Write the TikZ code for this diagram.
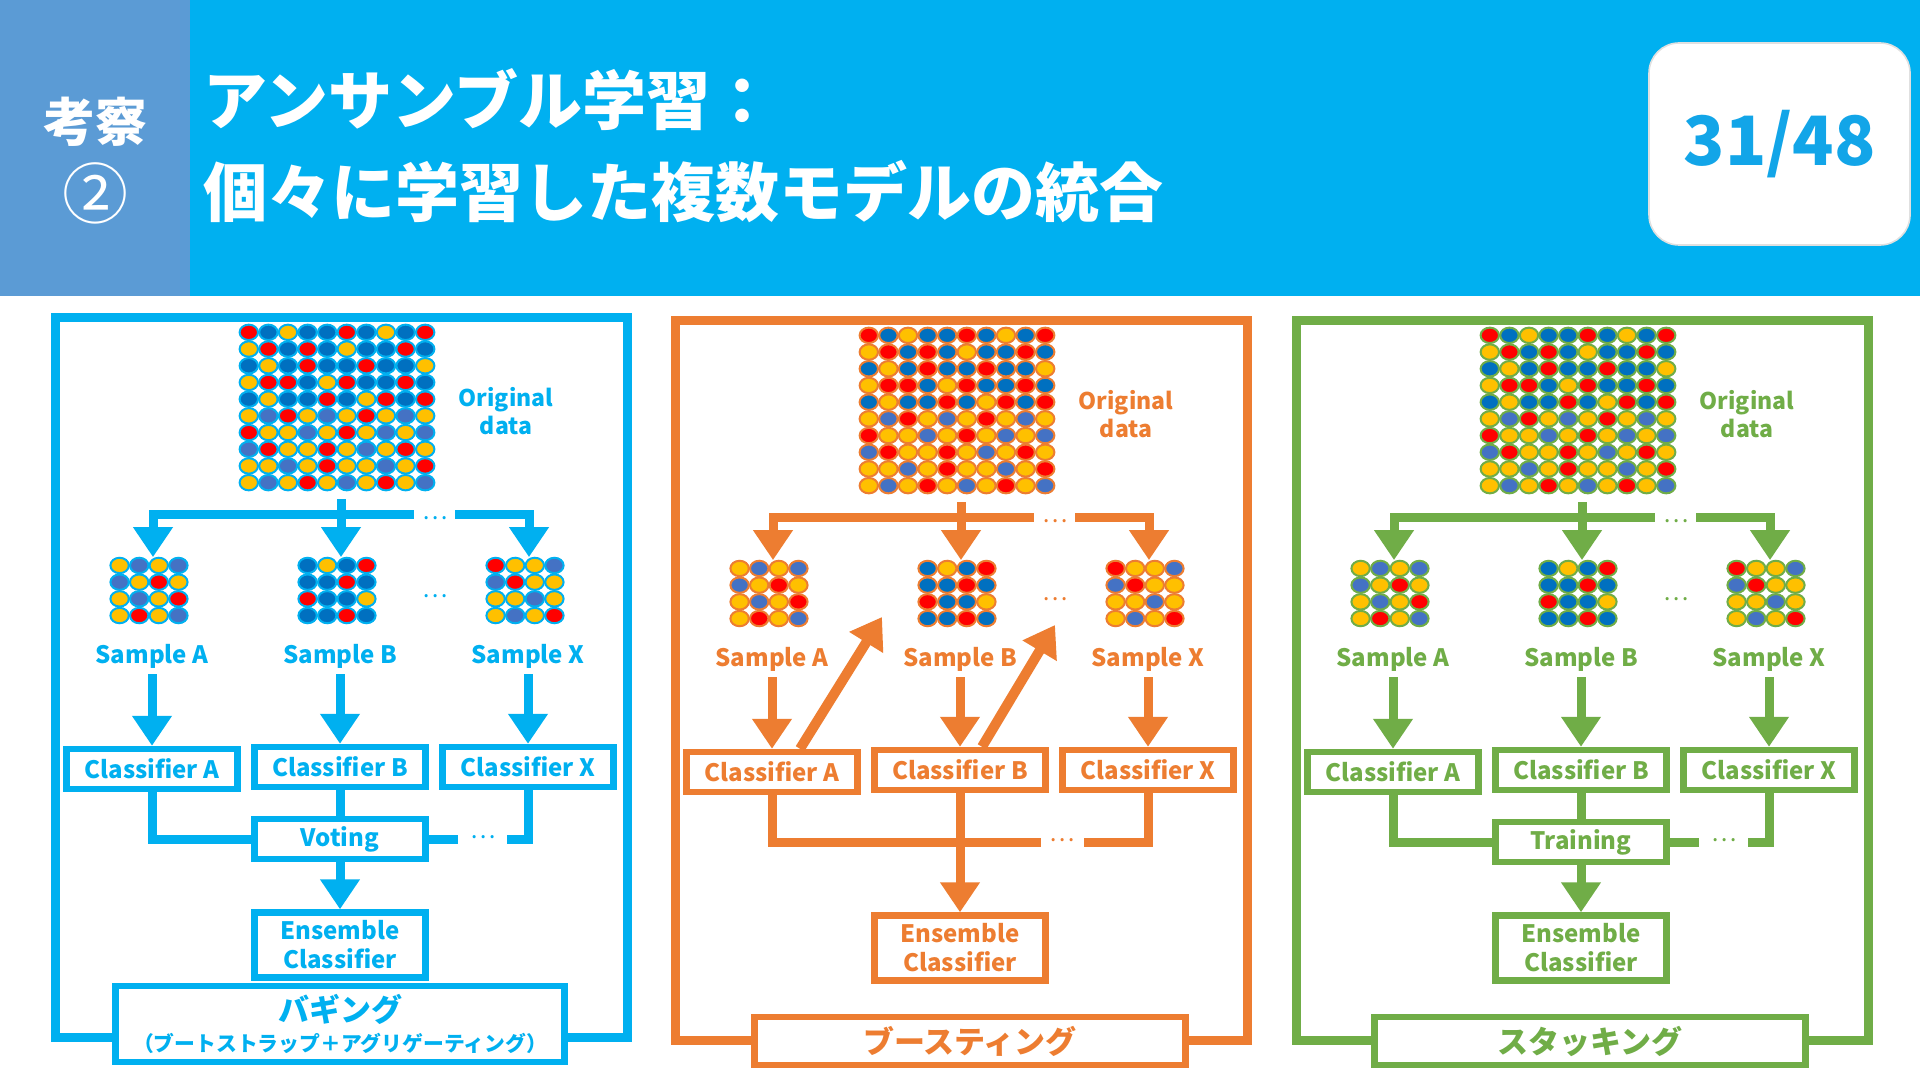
\documentclass[tikz,border=0pt]{standalone}
\usepackage{fontspec}
\setmainfont{Noto Sans CJK JP}
\usetikzlibrary{arrows.meta}

\definecolor{hdblue}{HTML}{00B0F0}
\definecolor{hdside}{HTML}{5B9BD5}
\definecolor{pgnum}{HTML}{12A5E8}
\definecolor{pBlue}{HTML}{00B0F0}
\definecolor{pOrange}{HTML}{ED7D31}
\definecolor{pGreen}{HTML}{70AD47}
\definecolor{dotR}{HTML}{FF0000}
\definecolor{dotD}{HTML}{0070C0}
\definecolor{dotY}{HTML}{FFC000}
\definecolor{dotL}{HTML}{4472C4}

% dot colours, row by row
\newcommand\origdots{{R,D,Y,D,D,R,D,Y,D,R},{Y,R,D,R,D,Y,D,D,R,D},{D,Y,D,R,D,D,R,D,D,Y},{Y,R,R,D,Y,R,D,D,R,D},{D,Y,D,D,R,D,Y,R,D,R},{Y,L,R,Y,L,Y,R,Y,L,Y},{R,Y,Y,L,Y,R,Y,L,Y,L},{L,R,Y,Y,R,Y,L,Y,R,Y},{Y,Y,L,Y,R,Y,Y,L,Y,R},{Y,L,Y,R,Y,L,Y,R,Y,L}}
\newcommand\smpA{{Y,L,Y,L},{L,Y,R,Y},{Y,L,Y,R},{Y,R,Y,L}}
\newcommand\smpB{{D,Y,D,R},{D,D,R,D},{R,D,D,Y},{D,D,R,D}}
\newcommand\smpX{{R,Y,Y,L},{L,R,Y,Y},{Y,Y,L,Y},{Y,L,Y,R}}

% #1 grid node, #2 rows, #3 outline colour
\newcommand\dotgrid[3]{%
  \foreach \row [count=\j] in #2 {
    \foreach \col [count=\i] in \row {
      \filldraw[draw=#3,fill=dot\col,line width=1pt]
        ([xshift=\i*9.8pt-4.9pt,yshift=-\j*8.35pt+4.175pt]#1.north west)
        ellipse [x radius=4.6pt,y radius=3.85pt];
    }
  }
}

\begin{document}
\begin{tikzpicture}[x=0.5pt,y=-0.5pt,>={Triangle[width=19pt,length=15pt]},
  wire/.style={draw=#1,line width=4.5pt},
  arr/.style={wire=#1,->},
  panelframe/.style={draw=#1,line width=4.5pt},
  clbox/.style={draw=#1,text=#1,fill=white,line width=3.2pt,minimum width=85.5pt,minimum height=20pt,inner sep=0pt,font=\bfseries\fontsize{12}{14.5}\selectfont},
  ensbox/.style={clbox=#1,minimum height=32.5pt,align=center},
  namebox/.style={draw=#1,text=#1,fill=white,line width=3.2pt,inner sep=0pt,align=center,font=\bfseries\fontsize{15.5}{18}\selectfont},
  smplabel/.style={text=#1,inner sep=3pt,font=\bfseries\fontsize{12}{15}\selectfont},
  datalabel/.style={text=#1,align=center,font=\bfseries\fontsize{11.5}{14}\selectfont},
  ellip/.style={text=#1,inner sep=0pt,font=\fontsize{12}{12}\selectfont},
  biggrid/.style={inner sep=0pt,outer sep=2pt,minimum width=98pt,minimum height=83.5pt},
  smpgrid/.style={inner sep=0pt,outer sep=2pt,minimum width=39.2pt,minimum height=33.4pt}]
\useasboundingbox (0,0) rectangle (1920,1080);
% header
    \fill[white] (0,0) rectangle (1920,1080);
    \fill[hdblue] (0,0) rectangle (1920,296);
    \fill[hdside] (0,0) rectangle (190,296);
    \node[text=white,font=\bfseries\fontsize{26}{26}\selectfont] (topic) at (95,122) {考察};
    \node[text=white,font=\fontsize{33}{33}\selectfont] (topicno) at (95,193) {②};
    \node[anchor=west,text=white,inner sep=0pt,font=\bfseries\fontsize{32}{32}\selectfont] (title1) at (203,100) {アンサンブル学習：};
    \node[anchor=west,text=white,inner sep=0pt,font=\bfseries\fontsize{32}{32}\selectfont] (title2) at (203,192) {個々に学習した複数モデルの統合};
    \node[fill=white,draw=black!12,line width=0.8pt,rounded corners=15pt,minimum width=130.5pt,minimum height=101pt,text=pgnum,font=\bfseries\fontsize{34}{34}\selectfont] (page) at (1779.5,144) {31/48};
% common part of the three panels
\foreach \p/\pc/\dx/\dy in {bag/pBlue/0/0,boo/pOrange/620/3,sta/pGreen/1241/3} {
  \begin{scope}[shift={(\dx,\dy)}]
    \draw[panelframe=\pc] (55,318) rectangle (627,1037);
%   data
    \node[biggrid] (\p-orig) at (341,411.5) {};
    \dotgrid{\p-orig}{\origdots}{\pc}
    \node[datalabel=\pc] (\p-olab) at (506,411) {Original\\data};
    \node[smpgrid] (\p-sA) at (153,594.5) {};
    \node[smpgrid] (\p-sB) at (341,594.5) {};
    \node[smpgrid] (\p-sX) at (529,594.5) {};
    \dotgrid{\p-sA}{\smpA}{\pc}
    \dotgrid{\p-sB}{\smpB}{\pc}
    \dotgrid{\p-sX}{\smpX}{\pc}
    \node[ellip=\pc] (\p-e2) at (435,596) {…};
    \node[smplabel=\pc] (\p-lA) at (152,656) {Sample A};
    \node[smplabel=\pc] (\p-lB) at (340,656) {Sample B};
    \node[smplabel=\pc] (\p-lX) at (528,656) {Sample X};
%   classifiers
    \node[clbox=\pc] (\p-cA) at (152,769) {Classifier A};
    \node[clbox=\pc] (\p-cB) at (340,767) {Classifier B};
    \node[clbox=\pc] (\p-cX) at (528,767) {Classifier X};
    \node[ensbox=\pc] (\p-ens) at (340,945) {Ensemble\\Classifier};
%   split
    \coordinate (\p-jn) at (340,514);
    \coordinate (\p-sgl) at (414,514);
    \coordinate (\p-sgr) at (455,514);
    \draw[arr=\pc] (\p-orig) -- (\p-sB);
    \draw[arr=\pc] (\p-jn) -| (\p-sA);
    \draw[wire=\pc] (\p-jn) -- (\p-sgl);
    \node[ellip=\pc] (\p-e1) at (435,518) {…};
    \draw[arr=\pc] (\p-sgr) -| (\p-sX);
    \draw[arr=\pc] (\p-lA) -- (\p-cA);
    \draw[arr=\pc] (\p-lB) -- (\p-cB);
    \draw[arr=\pc] (\p-lX) -- (\p-cX);
  \end{scope}
}
% bagging
    \node[clbox=pBlue] (bag-vote) at (340,839) {Voting};
    \coordinate (bag-gl) at (458,839);
    \coordinate (bag-gr) at (507,839);
    \draw[wire=pBlue] (bag-cA) |- (bag-vote);
    \draw[wire=pBlue] (bag-cB) -- (bag-vote);
    \draw[wire=pBlue] (bag-vote) -- (bag-gl);
    \node[ellip=pBlue] (bag-e3) at (483,837) {…};
    \draw[wire=pBlue] (bag-gr) -| (bag-cX);
    \draw[arr=pBlue] (bag-vote) -- (bag-ens);
    \node[namebox=pBlue,minimum width=224.5pt,minimum height=38pt] (bag-name) at (340,1024)
      {バギング\\[-3pt]{\fontsize{10.4}{12}\selectfont （ブートストラップ＋アグリゲーティング）}};
% boosting
\begin{scope}[shift={(620,3)}]
    \coordinate (boo-gl) at (421,839);
    \coordinate (boo-gr) at (464,839);
    \coordinate (boo-tA) at (262,614);
    \coordinate (boo-tB) at (435,622);
    \draw[wire=pOrange] (boo-cA) |- (boo-gl);
    \node[ellip=pOrange] (boo-e3) at (442,837) {…};
    \draw[wire=pOrange] (boo-gr) -| (boo-cX);
    \draw[arr=pOrange] (boo-cB) -- (boo-ens);
    \draw[arr=pOrange,line width=5pt] ([xshift=14pt]boo-cA.north) -- (boo-tA);
    \draw[arr=pOrange,line width=5pt] ([xshift=11pt]boo-cB.north) -- (boo-tB);
    \node[namebox=pOrange,minimum width=215.5pt,minimum height=24pt] (boo-name) at (350,1038) {ブースティング};
\end{scope}
% stacking
\begin{scope}[shift={(1241,3)}]
    \node[clbox=pGreen] (sta-train) at (340,839) {Training};
    \coordinate (sta-gl) at (458,839);
    \coordinate (sta-gr) at (507,839);
    \draw[wire=pGreen] (sta-cA) |- (sta-train);
    \draw[wire=pGreen] (sta-cB) -- (sta-train);
    \draw[wire=pGreen] (sta-train) -- (sta-gl);
    \node[ellip=pGreen] (sta-e3) at (483,837) {…};
    \draw[wire=pGreen] (sta-gr) -| (sta-cX);
    \draw[arr=pGreen] (sta-train) -- (sta-ens);
    \node[namebox=pGreen,minimum width=215.5pt,minimum height=24pt] (sta-name) at (349,1038) {スタッキング};
\end{scope}
\end{tikzpicture}
\end{document}
